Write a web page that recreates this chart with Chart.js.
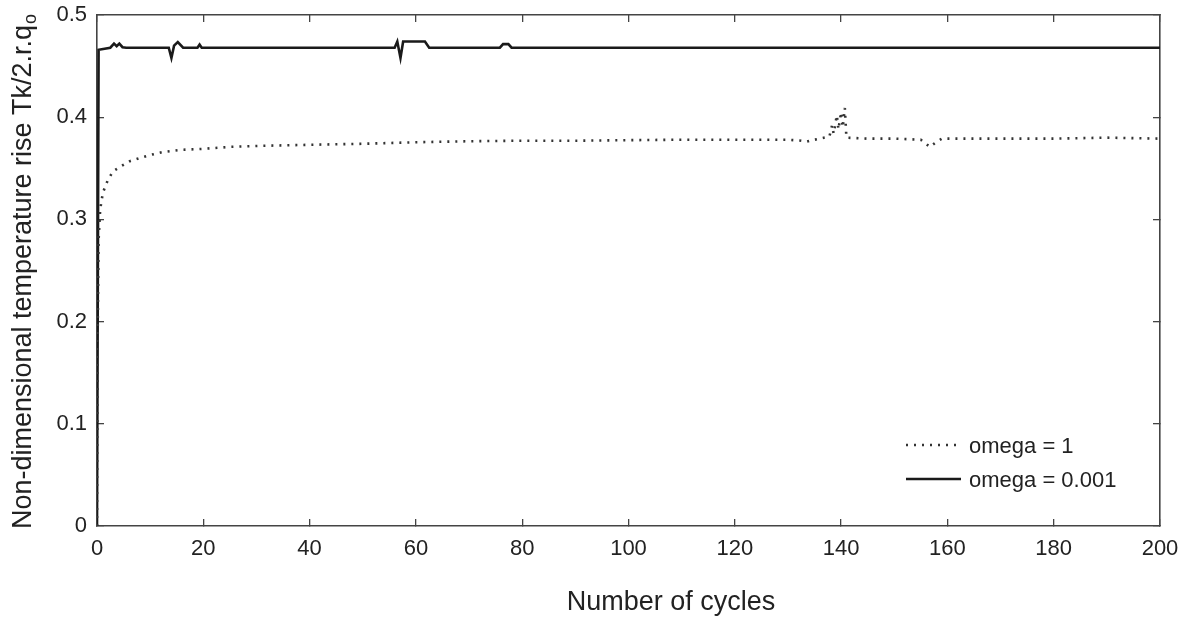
<!DOCTYPE html>
<html>
<head>
<meta charset="utf-8">
<script src="https://cdn.jsdelivr.net/npm/chart.js@4/dist/chart.umd.min.js"></script>
<style>
  html, body { margin:0; padding:0; background:#fff; }
  #wrap { width:1185px; height:618px; position:relative; }
</style>
</head>
<body>
<div id="wrap"><canvas id="c"></canvas></div>
<script>
// omega = 1 (dotted)
const cyclesW1 = [0, 0.05, 0.15, 0.3, 0.6, 1.1, 2, 3, 4.5, 6.2, 8, 10, 12.5, 15.6, 20, 25, 31, 40, 50, 60, 70, 80, 90, 100, 110, 120, 130,
  132.5, 133.5, 135, 137.8, 138.3, 138.6, 139.2, 139.5, 140.0, 140.3, 140.7, 141.0, 145, 150, 155, 156.7, 158, 159, 170, 180, 190, 200];
const valuesW1 = [0, 0.10, 0.20, 0.28, 0.31, 0.326, 0.338, 0.347, 0.352, 0.357, 0.360, 0.363, 0.366, 0.368, 0.369, 0.371, 0.372, 0.373, 0.374, 0.3755, 0.3765, 0.377, 0.377, 0.3775, 0.378, 0.378, 0.378,
  0.377, 0.376, 0.378, 0.381, 0.392, 0.384, 0.402, 0.388, 0.405, 0.390, 0.409, 0.380, 0.379, 0.379, 0.378, 0.371, 0.376, 0.379, 0.379, 0.379, 0.380, 0.379];

// omega = 0.001 (solid)
const cyclesW2 = [0, 0.3, 2.5, 3.2, 3.7, 4.2, 4.8, 5.5, 13.5, 14.0, 14.5, 15.2, 16.2, 18.9, 19.3, 19.7,
  56.0, 56.5, 57.1, 57.6, 61.7, 62.5, 75.8, 76.4, 77.4, 78.0, 200];
const valuesW2 = [0, 0.466, 0.468, 0.472, 0.4695, 0.472, 0.4685, 0.468, 0.468, 0.458, 0.470, 0.4735, 0.468, 0.468, 0.471, 0.468,
  0.468, 0.474, 0.458, 0.474, 0.474, 0.468, 0.468, 0.4715, 0.4715, 0.468, 0.468];

const seriesLabels = ['omega = 1', 'omega = 0.001'];
const xTitle = 'Number of cycles';
const yTitle = 'Non-dimensional temperature rise Tk/2.r.q';
const yTitleSub = 'o';

const FONT = "'Liberation Sans', Arial, Helvetica, sans-serif";
const INK = '#222';
const AXIS = '#444';

function pts(xs, ys){ return xs.map((x,i)=>({x:x, y:ys[i]})); }

function innerAxis(pos, extra){
  return Object.assign({
    type:'linear', position:pos,
    border:{display:true, color:AXIS, width:1.6},
    grid:{display:true, drawOnChartArea:false, tickLength:-7, color:AXIS, lineWidth:1.3},
  }, extra);
}

// keep the plot box fixed: no extra room for overhanging tick labels
function noPad(s){ s.paddingTop = 0; s.paddingBottom = 0; s.paddingLeft = 0; s.paddingRight = 0; }

const decorations = {
  id:'decorations',
  afterDraw(chart){
    const ctx = chart.ctx;
    const ds = chart.data.datasets;
    ctx.save();
    // axis titles
    ctx.fillStyle = INK;
    ctx.font = '27px ' + FONT;
    ctx.textAlign = 'center'; ctx.textBaseline = 'middle';
    ctx.fillText(xTitle, 671, 603);

    ctx.translate(31, 272);
    ctx.rotate(-Math.PI/2);
    ctx.textAlign = 'left'; ctx.textBaseline = 'alphabetic';
    ctx.font = '27px ' + FONT;
    const w1 = ctx.measureText(yTitle).width;
    ctx.font = '18px ' + FONT;
    const w2 = ctx.measureText(yTitleSub).width;
    const x0 = -(w1 + w2)/2;
    ctx.font = '27px ' + FONT;
    ctx.fillText(yTitle, x0, 0);
    ctx.font = '18px ' + FONT;
    ctx.fillText(yTitleSub, x0 + w1 + 1, 5);
    ctx.restore();

    // legend inside the plot, lower right
    ctx.save();
    ctx.font = '22px ' + FONT;
    ctx.textAlign = 'left'; ctx.textBaseline = 'middle';
    const rows = [447, 481];
    ds.forEach((d, i) => {
      const y = rows[i];
      ctx.strokeStyle = d.borderColor;
      ctx.lineWidth = d.borderWidth;
      ctx.setLineDash(d.borderDash || []);
      ctx.beginPath(); ctx.moveTo(906, y - 2); ctx.lineTo(961, y - 2); ctx.stroke();
      ctx.setLineDash([]);
      ctx.fillStyle = INK;
      ctx.fillText(seriesLabels[i], 969, y);
    });
    ctx.restore();
  }
};

new Chart(document.getElementById('c'), {
  type:'scatter',
  data:{ datasets:[
    {label:seriesLabels[0], data:pts(cyclesW1, valuesW1), showLine:true, pointRadius:0,
     borderColor:'#333', borderWidth:2.6, borderDash:[2,6], tension:0},
    {label:seriesLabels[1], data:pts(cyclesW2, valuesW2), showLine:true, pointRadius:0,
     borderColor:'#1a1a1a', borderWidth:2.6, tension:0}
  ]},
  options:{
    responsive:true, maintainAspectRatio:false, animation:false,
    layout:{ padding:{left:0, right:25, top:15, bottom:0} },
    plugins:{ legend:{display:false}, tooltip:{enabled:false} },
    scales:{
      x: innerAxis('bottom', {min:0, max:200,
        ticks:{stepSize:20, padding:17, color:INK, font:{family:FONT, size:22}},
        afterFit(s){ s.height = 92; noPad(s); }}),
      y: innerAxis('left', {min:0, max:0.5,
        ticks:{stepSize:0.1, padding:17, color:INK, font:{family:FONT, size:22},
               callback:v => v === 0 ? '0' : v.toFixed(1)},
        afterFit(s){ s.width = 97; noPad(s); }}),
      x2: innerAxis('top', {min:0, max:200, ticks:{display:false, stepSize:20},
        afterFit(s){ s.height = 0; noPad(s); }}),
      y2: innerAxis('right', {min:0, max:0.5, ticks:{display:false, stepSize:0.1},
        afterFit(s){ s.width = 0; noPad(s); }})
    }
  },
  plugins:[decorations]
});
</script>
</body>
</html>
